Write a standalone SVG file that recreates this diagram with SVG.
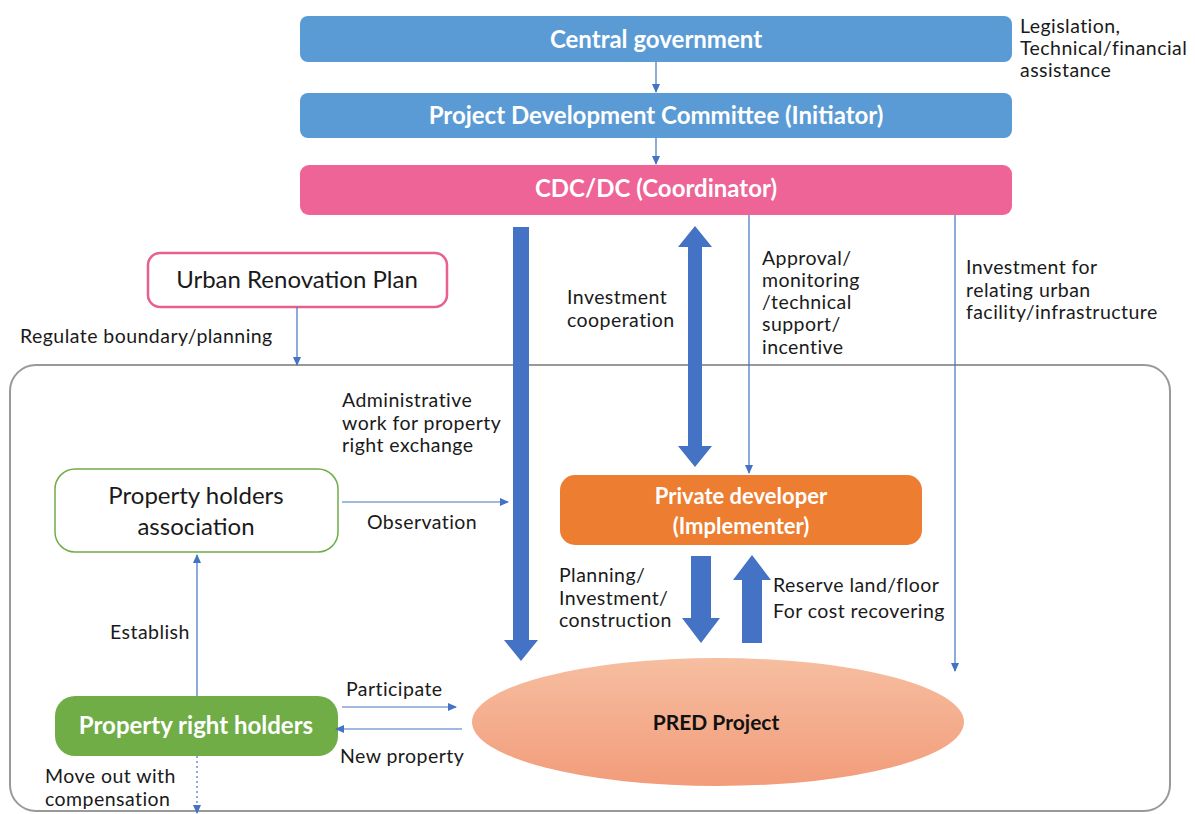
<svg xmlns="http://www.w3.org/2000/svg" width="1195" height="814" viewBox="0 0 1195 814">
<style>
.t{font-family:Lato,"Open Sans","Liberation Sans",sans-serif;font-size:19.5px;letter-spacing:0.45px;fill:#1a1a1a}
.w{font-family:Lato,"Open Sans","Liberation Sans",sans-serif;font-size:24px;font-weight:bold;fill:#fff;text-anchor:middle}
.n{font-family:Lato,"Open Sans","Liberation Sans",sans-serif;font-size:24px;fill:#1a1a1a;text-anchor:middle}
.thin{stroke:#4472C4;stroke-width:1.2;fill:none}
.big{fill:#4472C4}
</style>
<defs>
<marker id="ah" markerWidth="10" markerHeight="10" refX="8" refY="5" orient="auto" markerUnits="userSpaceOnUse">
<path d="M0,1 L9,5 L0,9 Z" fill="#4472C4"/>
</marker>
<linearGradient id="eg" x1="0" y1="0" x2="0" y2="1">
<stop offset="0" stop-color="#F6BEA0"/>
<stop offset="1" stop-color="#F29C7A"/>
</linearGradient>
</defs>
<rect width="1195" height="814" fill="#fff"/>

<g id="container">
<rect x="10" y="365" width="1160" height="446" rx="26" fill="none" stroke="#999" stroke-width="2"/>
</g>

<g id="central-government">
<rect x="300" y="16" width="712" height="46" rx="8" fill="#5B9BD5"/>
<text class="w" x="656" y="48">Central government</text>
</g>
<g id="legislation-note">
<text class="t" x="1020" y="33">Legislation,</text>
<text class="t" x="1020" y="55">Technical/financial</text>
<text class="t" x="1020" y="77">assistance</text>
</g>
<g id="pdc">
<rect x="300" y="93" width="712" height="45" rx="8" fill="#5B9BD5"/>
<text class="w" x="656" y="124">Project Development Committee (Initiator)</text>
</g>
<g id="cdc">
<rect x="300" y="165" width="712" height="50" rx="9" fill="#EE6496"/>
<text class="w" x="656" y="197">CDC/DC (Coordinator)</text>
</g>
<g id="urban-renovation-plan">
<rect x="148" y="253" width="299" height="54" rx="12" fill="#fff" stroke="#E8608C" stroke-width="2.5"/>
<text class="n" x="297" y="288">Urban Renovation Plan</text>
</g>
<g id="property-holders-association">
<rect x="55" y="469" width="283" height="83" rx="20" fill="#fff" stroke="#70AD47" stroke-width="1.5"/>
<text class="n" x="196" y="504">Property holders</text>
<text class="n" x="196" y="535">association</text>
</g>
<g id="private-developer">
<rect x="560" y="475" width="362" height="70" rx="15" fill="#ED7D31"/>
<text class="w" x="741" y="504" style="font-size:22px">Private developer</text>
<text class="w" x="741" y="534" style="font-size:22px">(Implementer)</text>
</g>
<g id="pred-project">
<ellipse cx="718" cy="722" rx="246" ry="64" fill="url(#eg)"/>
<text x="716" y="730" style="font-family:Lato,'Open Sans','Liberation Sans',sans-serif;font-size:21px;font-weight:bold;fill:#111;text-anchor:middle">PRED Project</text>
</g>
<g id="property-right-holders">
<rect x="55" y="696" width="283" height="60" rx="20" fill="#70AD47"/>
<text class="w" x="196" y="734">Property right holders</text>
</g>

<g id="connectors">
<line class="thin" x1="656" y1="62" x2="656" y2="92" marker-end="url(#ah)"/>
<line class="thin" x1="656" y1="138" x2="656" y2="164" marker-end="url(#ah)"/>
<line class="thin" x1="297" y1="307" x2="297" y2="365" marker-end="url(#ah)"/>
<line class="thin" x1="749" y1="215" x2="749" y2="473" marker-end="url(#ah)"/>
<line class="thin" x1="955" y1="215" x2="955" y2="671" marker-end="url(#ah)"/>
<line class="thin" x1="342" y1="502" x2="508" y2="502" marker-end="url(#ah)"/>
<line class="thin" x1="197" y1="696" x2="197" y2="555" marker-end="url(#ah)"/>
<line class="thin" x1="342" y1="707" x2="456" y2="707" marker-end="url(#ah)"/>
<line class="thin" x1="462" y1="729" x2="336" y2="729" marker-end="url(#ah)"/>
<line class="thin" x1="197" y1="756" x2="197" y2="813" stroke-dasharray="2,3" marker-end="url(#ah)"/>
<path class="big" d="M513,227 H529 V640 H538 L521,661 L504,640 H513 Z"/>
<path class="big" d="M695,226 L712,247 H702 V446 H712 L695,467 L678,446 H688 V247 H678 Z"/>
<path class="big" d="M691,556 H711 V618 H720 L701,643 L682,618 H691 Z"/>
<path class="big" d="M752,555 L771,580 H762 V643 H742 V580 H733 Z"/>
</g>

<g id="labels">
<text class="t" x="20" y="343">Regulate boundary/planning</text>
<text class="t" x="567" y="304">Investment</text>
<text class="t" x="567" y="327">cooperation</text>
<text class="t" x="762" y="265">Approval/</text>
<text class="t" x="762" y="287">monitoring</text>
<text class="t" x="762" y="309">/technical</text>
<text class="t" x="762" y="331">support/</text>
<text class="t" x="762" y="354">incentive</text>
<text class="t" x="966" y="274">Investment for</text>
<text class="t" x="966" y="297">relating urban</text>
<text class="t" x="966" y="319">facility/infrastructure</text>
<text class="t" x="342" y="407">Administrative</text>
<text class="t" x="342" y="430">work for property</text>
<text class="t" x="342" y="452">right exchange</text>
<text class="t" x="367" y="529">Observation</text>
<text class="t" x="559" y="582">Planning/</text>
<text class="t" x="559" y="605">Investment/</text>
<text class="t" x="559" y="627">construction</text>
<text class="t" x="773" y="592">Reserve land/floor</text>
<text class="t" x="773" y="618">For cost recovering</text>
<text class="t" x="110" y="639">Establish</text>
<text class="t" x="346" y="696">Participate</text>
<text class="t" x="340" y="763">New property</text>
<text class="t" x="45" y="783">Move out with</text>
<text class="t" x="45" y="806">compensation</text>
</g>
</svg>
